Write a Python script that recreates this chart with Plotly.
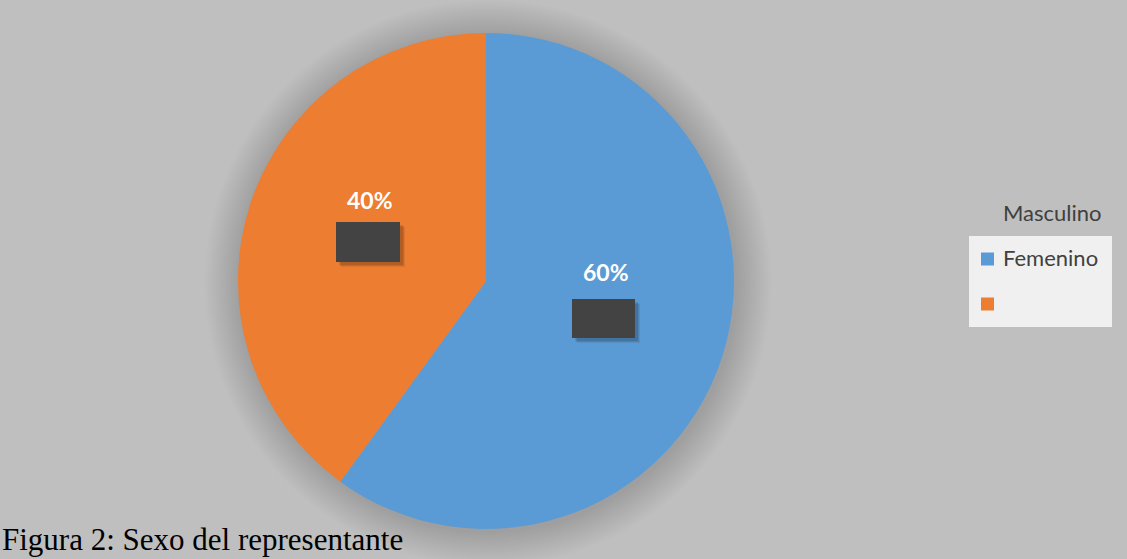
import plotly.graph_objects as go

# Data
categories = ["Femenino", "Masculino"]
values = [60, 40]
colors = ["#5b9bd5", "#ed7d31"]

W, H = 1127, 559
BG = "#bfbfbf"


def px(x):
    return x / W


def py(y):
    return 1 - y / H


# Pie geometry (pixels)
cx, cy, r = 486, 281, 248

fig = go.Figure(
    go.Pie(
        labels=categories,
        values=values,
        marker=dict(colors=colors, line=dict(width=0)),
        sort=False,
        direction="clockwise",
        rotation=0,
        textinfo="none",
        hoverinfo="label+percent",
        showlegend=False,
        domain=dict(x=[px(cx - r), px(cx + r)], y=[py(cy + r), py(cy - r)]),
    )
)

shapes = []

# soft halo shadow behind the pie
for k in range(16, 0, -1):
    rr = r + 2.2 * k
    shapes.append(dict(
        type="circle", xref="paper", yref="paper", layer="below",
        x0=px(cx - rr + 2), x1=px(cx + rr + 2),
        y0=py(cy + rr + 2), y1=py(cy - rr + 2),
        fillcolor="rgba(0,0,0,0.007)", line=dict(width=0),
    ))

# data label text and dark callout boxes
total = sum(values)
label_pos = {"Femenino": (606, 272), "Masculino": (370, 200)}
box_pos = {"Femenino": (572, 299, 635, 338), "Masculino": (336, 222, 400, 262)}

annotations = []
for cat, v in zip(categories, values):
    lx, ly = label_pos[cat]
    annotations.append(dict(
        x=px(lx), y=py(ly), xref="paper", yref="paper", showarrow=False,
        text=f"<b>{v / total:.0%}</b>",
        font=dict(family="Lato", size=23, color="white"),
        xanchor="center", yanchor="middle",
    ))
    x0, y0, x1, y1 = box_pos[cat]
    for off, op in [(5, 0.07), (4, 0.09), (3, 0.11)]:
        shapes.append(dict(
            type="rect", xref="paper", yref="paper", layer="above",
            x0=px(x0 + off), x1=px(x1 + off), y0=py(y1 + off), y1=py(y0 + off),
            fillcolor=f"rgba(0,0,0,{op})", line=dict(width=0),
        ))
    shapes.append(dict(
        type="rect", xref="paper", yref="paper", layer="above",
        x0=px(x0), x1=px(x1), y0=py(y1), y1=py(y0),
        fillcolor="#434343", line=dict(width=0),
    ))

# legend panel
shapes.append(dict(
    type="rect", xref="paper", yref="paper", layer="above",
    x0=px(969), x1=px(1112), y0=py(327), y1=py(236),
    fillcolor="#f0f0f0", line=dict(width=0),
))
legend_rows = [(259, colors[0], "Femenino"), (304, colors[1], "")]
for yy, col, txt in legend_rows:
    shapes.append(dict(
        type="rect", xref="paper", yref="paper", layer="above",
        x0=px(981), x1=px(994), y0=py(yy + 6.5), y1=py(yy - 6.5),
        fillcolor=col, line=dict(width=0),
    ))
    if txt:
        annotations.append(dict(
            x=px(1001), y=py(yy - 2), xref="paper", yref="paper", showarrow=False,
            text=txt, font=dict(family="Lato", size=22, color="#404040"),
            xanchor="left", yanchor="middle",
        ))

annotations.append(dict(
    x=px(1001), y=py(212), xref="paper", yref="paper", showarrow=False,
    text="Masculino", font=dict(family="Lato", size=22, color="#404040"),
    xanchor="left", yanchor="middle",
))

# figure caption
annotations.append(dict(
    x=0, y=0, xref="paper", yref="paper", showarrow=False,
    text="Figura 2: Sexo del representante",
    font=dict(family="Liberation Serif", size=31, color="black"),
    xanchor="left", yanchor="bottom",
))

fig.update_layout(
    width=W, height=H,
    margin=dict(l=0, r=0, t=0, b=0),
    paper_bgcolor=BG, plot_bgcolor=BG,
    shapes=shapes, annotations=annotations,
)

fig.write_html("out.html")
